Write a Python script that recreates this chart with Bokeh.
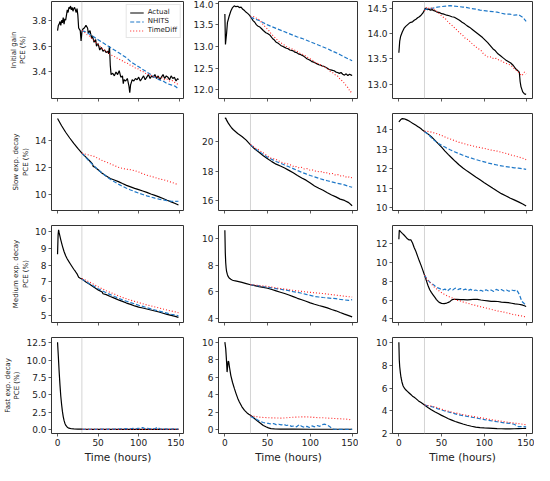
from bokeh.plotting import figure
from bokeh.layouts import gridplot
from bokeh.models import Range1d, FixedTicker, Span
from bokeh.embed import file_html
from bokeh.resources import INLINE

# ---------------- data ----------------
T5 = [30, 35, 40, 45, 50, 55, 60, 65, 70, 75, 80, 85, 90, 95, 100, 105, 110, 115, 120, 125, 130, 135, 140, 145, 149]
T3 = [30, 33, 36, 39, 42, 45, 48, 51, 54, 57, 60, 63, 66, 69, 72, 75, 78, 81, 84, 87, 90, 93, 96, 99, 102, 105,
      108, 111, 114, 117, 120, 123, 126, 129, 132, 135, 138, 141, 144, 147, 149]

# Initial gain
ig1_actual = [(0, 3.72), (1, 3.76), (2, 3.77), (3, 3.79), (4, 3.76), (5, 3.80), (6, 3.78), (7, 3.82), (8, 3.77),
              (9, 3.81), (10, 3.80), (11, 3.84), (12, 3.88), (13, 3.86), (14, 3.90), (15, 3.89), (16, 3.91),
              (17, 3.88), (18, 3.90), (19, 3.87), (20, 3.89), (21, 3.90), (22, 3.88), (23, 3.86), (24, 3.89),
              (25, 3.84), (26, 3.74), (27, 3.73), (28, 3.72), (29, 3.64), (30, 3.71), (31, 3.73), (33, 3.74),
              (35, 3.76), (37, 3.74), (38, 3.70), (40, 3.72), (42, 3.66), (43, 3.68), (45, 3.63), (47, 3.65),
              (48, 3.60), (50, 3.62), (52, 3.57), (54, 3.59), (56, 3.56), (58, 3.57), (60, 3.55), (62, 3.56),
              (63, 3.54), (64, 3.60), (65, 3.45), (66, 3.38), (68, 3.39), (70, 3.37), (72, 3.40), (74, 3.38),
              (76, 3.41), (78, 3.36), (80, 3.37), (81, 3.31), (82, 3.34), (84, 3.33), (86, 3.35), (88, 3.29),
              (89, 3.24), (90, 3.30), (92, 3.34), (94, 3.33), (96, 3.35), (98, 3.34), (100, 3.36), (102, 3.33),
              (104, 3.35), (106, 3.37), (108, 3.34), (110, 3.36), (112, 3.38), (114, 3.35), (116, 3.37),
              (118, 3.36), (120, 3.38), (122, 3.35), (124, 3.37), (126, 3.34), (128, 3.36), (130, 3.38),
              (132, 3.35), (134, 3.37), (136, 3.36), (138, 3.34), (140, 3.37), (142, 3.35), (144, 3.36),
              (146, 3.33), (148, 3.35), (149, 3.34)]
ig1_nhits = [3.72, 3.71, 3.69, 3.67, 3.65, 3.63, 3.61, 3.59, 3.57, 3.55, 3.53, 3.51, 3.48, 3.46, 3.44,
             3.42, 3.40, 3.38, 3.36, 3.34, 3.33, 3.31, 3.30, 3.29, 3.27]
ig1_timediff = [3.72, 3.71, 3.69, 3.68, 3.66, 3.645, 3.62, 3.61, 3.585, 3.575, 3.56, 3.545, 3.53, 3.525, 3.51,
                3.505, 3.49, 3.485, 3.47, 3.465, 3.45, 3.445, 3.43, 3.425, 3.41, 3.405, 3.39, 3.385, 3.375, 3.37,
                3.36, 3.365, 3.35, 3.355, 3.34, 3.345, 3.33, 3.335, 3.32, 3.31, 3.30]

ig2_actual = [(0, 13.75), (0.7, 13.05), (2, 13.3), (3, 13.55), (5, 13.7), (7, 13.82), (9, 13.9), (11, 13.94),
              (13, 13.92), (15, 13.93), (17, 13.9), (19, 13.91), (21, 13.86), (23, 13.83), (25, 13.79),
              (27, 13.76), (29, 13.72), (31, 13.66), (33, 13.6), (35, 13.56), (37, 13.5), (39, 13.47),
              (41, 13.45), (43, 13.41), (45, 13.37), (48, 13.32), (50, 13.3), (53, 13.26), (56, 13.18),
              (58, 13.15), (60, 13.1), (62, 13.08), (64, 13.05), (66, 13.02), (68, 13.0), (70, 12.98),
              (72, 12.96), (74, 12.95), (76, 12.92), (78, 12.91), (80, 12.9), (82, 12.87), (84, 12.86),
              (86, 12.83), (88, 12.82), (90, 12.8), (92, 12.78), (94, 12.75), (96, 12.72), (98, 12.7),
              (100, 12.68), (102, 12.65), (104, 12.64), (106, 12.62), (108, 12.6), (110, 12.58), (112, 12.57),
              (114, 12.55), (116, 12.54), (118, 12.52), (120, 12.5), (122, 12.47), (124, 12.46), (126, 12.45),
              (128, 12.44), (130, 12.41), (132, 12.4), (134, 12.38), (136, 12.4), (138, 12.36), (140, 12.34),
              (142, 12.37), (144, 12.33), (146, 12.36), (148, 12.34), (149, 12.33)]
ig2_nhits = [13.68, 13.64, 13.6, 13.55, 13.5, 13.46, 13.42, 13.38, 13.34, 13.3, 13.26, 13.22, 13.19, 13.15, 13.11,
             13.07, 13.03, 12.99, 12.95, 12.9, 12.86, 12.81, 12.76, 12.71, 12.67]
ig2_timediff = [13.68, 13.7, 13.66, 13.64, 13.58, 13.5, 13.44, 13.38, 13.3, 13.24, 13.18, 13.12, 13.08, 13.04, 13.0,
                12.97, 12.95, 12.92, 12.9, 12.85, 12.83, 12.8, 12.76, 12.72, 12.7, 12.64, 12.62, 12.58, 12.56,
                12.52, 12.5, 12.43, 12.4, 12.35, 12.32, 12.24, 12.2, 12.12, 12.05, 11.95, 11.97]

ig3_actual = [(0, 13.62), (1, 13.85), (2, 13.94), (4, 14.03), (6, 14.1), (8, 14.14), (10, 14.17), (12, 14.2),
              (14, 14.22), (16, 14.23), (18, 14.26), (20, 14.28), (22, 14.31), (24, 14.33), (26, 14.36),
              (28, 14.4), (30, 14.46), (31, 14.5), (33, 14.47), (35, 14.48), (37, 14.46), (39, 14.47),
              (41, 14.45), (43, 14.44), (45, 14.42), (48, 14.41), (50, 14.39), (53, 14.38), (56, 14.36),
              (59, 14.35), (62, 14.33), (65, 14.32), (68, 14.29), (71, 14.26), (74, 14.22), (77, 14.19),
              (80, 14.15), (83, 14.12), (86, 14.08), (89, 14.04), (92, 14.0), (95, 13.96), (98, 13.92),
              (101, 13.87), (104, 13.82), (107, 13.76), (110, 13.7), (113, 13.66), (116, 13.6), (119, 13.56),
              (122, 13.52), (125, 13.48), (128, 13.45), (131, 13.42), (134, 13.37), (137, 13.3), (139, 13.27),
              (141, 13.24), (142, 13.05), (143, 12.95), (145, 12.85), (147, 12.81), (149, 12.8)]
ig3_nhits = [14.47, 14.49, 14.5, 14.52, 14.53, 14.54, 14.55, 14.54, 14.53, 14.52, 14.51, 14.49, 14.48, 14.46, 14.45,
             14.44, 14.43, 14.42, 14.4, 14.38, 14.38, 14.36, 14.37, 14.32, 14.24]
ig3_timediff = [14.45, 14.52, 14.49, 14.5, 14.46, 14.43, 14.38, 14.33, 14.3, 14.24, 14.19, 14.15, 14.1, 14.05, 14.0,
                13.96, 13.9, 13.88, 13.83, 13.78, 13.74, 13.7, 13.67, 13.6, 13.56, 13.53, 13.54, 13.5, 13.51,
                13.48, 13.46, 13.43, 13.41, 13.39, 13.36, 13.31, 13.27, 13.22, 13.17, 13.24, 13.2]

# Slow exp. decay
sd1_actual = [(0, 15.58), (5, 15.05), (10, 14.57), (15, 14.15), (20, 13.75), (25, 13.38), (30, 13.04), (35, 12.74),
              (40, 12.44), (43, 12.25), (44, 12.05), (45, 12.06), (50, 11.82), (55, 11.56), (60, 11.35),
              (65, 11.17), (70, 11.06), (75, 10.94), (80, 10.8), (85, 10.67), (90, 10.56), (95, 10.45),
              (100, 10.35), (105, 10.25), (110, 10.15), (115, 10.03), (120, 9.93), (125, 9.82), (130, 9.7),
              (135, 9.57), (140, 9.45), (145, 9.33), (149, 9.22)]
sd1_nhits = [13.04, 12.7, 12.38, 12.1, 11.82, 11.56, 11.33, 11.12, 10.93, 10.76, 10.6, 10.46, 10.33, 10.21, 10.1,
             10.0, 9.9, 9.81, 9.73, 9.66, 9.6, 9.55, 9.5, 9.49, 9.5]
sd1_timediff = [13.04, 12.95, 12.88, 12.8, 12.65, 12.5, 12.38, 12.25, 12.12, 12.0, 11.92, 11.85, 11.82, 11.75, 11.65,
                11.52, 11.42, 11.33, 11.25, 11.15, 11.08, 11.0, 10.9, 10.8, 10.7]

sd2_actual = [(0, 21.56), (1, 21.6), (2, 21.45), (4, 21.25), (6, 21.08), (8, 20.92), (10, 20.8), (15, 20.55),
              (20, 20.35), (25, 20.1), (30, 19.78), (35, 19.5), (40, 19.28), (45, 19.05), (50, 18.85), (55, 18.65),
              (60, 18.48), (65, 18.35), (70, 18.22), (75, 18.06), (80, 17.9), (85, 17.72), (90, 17.55), (95, 17.4),
              (100, 17.2), (105, 17.0), (110, 16.85), (115, 16.72), (120, 16.55), (125, 16.4), (130, 16.27),
              (135, 16.12), (140, 16.03), (145, 15.88), (149, 15.67)]
sd2_nhits = [19.78, 19.55, 19.34, 19.14, 18.95, 18.8, 18.66, 18.54, 18.42, 18.3, 18.18, 18.05, 17.93, 17.82, 17.71,
             17.62, 17.52, 17.44, 17.36, 17.28, 17.21, 17.15, 17.08, 16.98, 16.92]
sd2_timediff = [19.8, 19.7, 19.55, 19.48, 19.35, 19.25, 19.12, 19.0, 18.88, 18.85, 18.8, 18.7, 18.62, 18.55, 18.52,
                18.47, 18.4, 18.3, 18.32, 18.22, 18.26, 18.15, 18.18, 18.08, 18.1, 18.02, 18.0, 17.95, 17.98,
                17.88, 17.9, 17.82, 17.85, 17.75, 17.78, 17.68, 17.72, 17.6, 17.65, 17.55, 17.58]

sd3_actual = [(0, 14.39), (2, 14.5), (4, 14.56), (6, 14.55), (8, 14.52), (10, 14.48), (12, 14.44), (14, 14.38),
              (16, 14.32), (18, 14.27), (20, 14.22), (22, 14.16), (24, 14.1), (26, 14.04), (28, 13.96), (30, 13.9),
              (34, 13.78), (38, 13.64), (42, 13.46), (46, 13.28), (50, 13.1), (54, 12.9), (58, 12.72), (62, 12.55),
              (66, 12.38), (70, 12.22), (75, 12.04), (80, 11.88), (85, 11.73), (90, 11.58), (95, 11.44),
              (100, 11.29), (105, 11.15), (110, 11.0), (115, 10.86), (120, 10.73), (125, 10.62), (130, 10.51),
              (135, 10.41), (140, 10.31), (145, 10.2), (149, 10.1)]
sd3_nhits = [13.9, 13.72, 13.5, 13.33, 13.2, 13.08, 12.97, 12.87, 12.78, 12.69, 12.61, 12.54, 12.47, 12.41, 12.35,
             12.29, 12.24, 12.19, 12.15, 12.11, 12.08, 12.05, 12.03, 12.0, 11.97]
sd3_timediff = [13.92, 13.9, 13.85, 13.78, 13.7, 13.6, 13.52, 13.44, 13.36, 13.3, 13.23, 13.18, 13.12, 13.08, 13.04,
                12.98, 12.94, 12.9, 12.84, 12.79, 12.72, 12.66, 12.6, 12.54, 12.46]

# Medium exp. decay
md1_actual = [(0, 8.64), (0.7, 9.8), (1.3, 10.08), (2, 9.9), (3, 9.7), (4, 9.49), (6, 9.12), (8, 8.8), (10, 8.55),
              (12, 8.36), (14, 8.2), (16, 8.05), (18, 7.9), (20, 7.75), (22, 7.62), (24, 7.48), (26, 7.28),
              (28, 7.22), (30, 7.17), (35, 7.0), (40, 6.85), (45, 6.68), (50, 6.53), (55, 6.4), (56, 6.3),
              (60, 6.25), (65, 6.14), (70, 6.04), (75, 5.94), (80, 5.85), (85, 5.75), (90, 5.67), (95, 5.58),
              (100, 5.51), (105, 5.46), (110, 5.4), (115, 5.34), (120, 5.28), (125, 5.22), (130, 5.15),
              (135, 5.08), (140, 5.02), (145, 4.96), (149, 4.9)]
md1_nhits = [7.17, 7.02, 6.88, 6.74, 6.6, 6.48, 6.36, 6.25, 6.14, 6.04, 5.94, 5.86, 5.78, 5.7, 5.62,
             5.55, 5.48, 5.41, 5.34, 5.27, 5.21, 5.15, 5.09, 5.04, 4.99]
md1_timediff = [7.2, 7.1, 6.98, 6.85, 6.72, 6.6, 6.48, 6.38, 6.28, 6.18, 6.08, 6.0, 5.92, 5.85, 5.78,
                5.71, 5.64, 5.58, 5.52, 5.46, 5.4, 5.34, 5.28, 5.23, 5.18]

md2_actual = [(0, 10.65), (0.5, 8.96), (1, 8.2), (1.5, 7.8), (2, 7.55), (3, 7.3), (4, 7.15), (5, 7.05), (7, 6.95),
              (9, 6.88), (11, 6.85), (15, 6.8), (20, 6.72), (25, 6.63), (30, 6.54), (35, 6.47), (40, 6.4),
              (45, 6.34), (50, 6.28), (55, 6.18), (60, 6.08), (65, 5.98), (70, 5.88), (75, 5.77), (80, 5.65),
              (85, 5.52), (90, 5.41), (95, 5.3), (100, 5.18), (105, 5.07), (110, 4.98), (115, 4.9), (120, 4.8),
              (125, 4.68), (130, 4.58), (135, 4.45), (140, 4.33), (145, 4.22), (149, 4.12)]
md2_nhits = [6.54, 6.5, 6.45, 6.4, 6.36, 6.3, 6.25, 6.2, 6.15, 6.1, 6.02, 5.97, 5.9, 5.82, 5.74,
             5.66, 5.62, 5.58, 5.55, 5.52, 5.49, 5.44, 5.4, 5.36, 5.42]
md2_timediff = [6.55, 6.52, 6.48, 6.45, 6.42, 6.36, 6.3, 6.26, 6.22, 6.17, 6.12, 6.08, 6.04, 6.0, 5.97,
                5.94, 5.91, 5.88, 5.84, 5.8, 5.76, 5.72, 5.68, 5.64, 5.62]

md3_actual = [(0, 12.4), (0.5, 13.35), (2, 13.2), (4, 13.02), (6, 12.85), (8, 12.65), (10, 12.45), (12, 12.33),
              (14, 12.35), (16, 12.0), (18, 11.5), (20, 11.1), (22, 10.6), (24, 10.1), (26, 9.65), (28, 9.15),
              (30, 8.62), (32, 8.1), (34, 7.55), (36, 7.1), (38, 6.8), (40, 6.55), (42, 6.3), (44, 6.05),
              (46, 5.85), (48, 5.72), (50, 5.65), (53, 5.62), (56, 5.68), (58, 5.75), (60, 5.85), (62, 6.02),
              (64, 6.08), (68, 6.06), (72, 6.03), (76, 6.05), (80, 6.02), (84, 6.05), (88, 6.08), (92, 6.06),
              (96, 6.0), (100, 5.95), (104, 5.9), (108, 5.85), (112, 5.86), (116, 5.84), (120, 5.78), (124, 5.76),
              (128, 5.72), (132, 5.66), (136, 5.6), (140, 5.55), (144, 5.48), (147, 5.4), (149, 5.32)]
md3_nhits = [8.62, 8.2, 7.9, 7.72, 7.5, 7.3, 7.2, 7.05, 7.15, 6.95, 7.2, 7.05, 7.25, 7.1, 7.2,
             7.05, 7.15, 7.0, 7.12, 6.98, 7.05, 6.95, 7.02, 6.9, 7.08, 6.95, 7.05, 6.9, 7.12, 7.0,
             7.1, 6.95, 7.05, 6.92, 7.06, 6.98, 7.05, 6.6, 5.85, 5.6, 5.5]
md3_timediff = [8.62, 8.15, 7.85, 7.6, 7.3, 7.1, 6.9, 6.72, 6.55, 6.42, 6.3, 6.2, 6.05, 5.95, 5.9,
                5.8, 5.72, 5.65, 5.55, 5.5, 5.42, 5.35, 5.28, 5.22, 5.15, 5.08, 5.02, 4.95, 4.88, 4.82,
                4.78, 4.72, 4.66, 4.6, 4.52, 4.45, 4.42, 4.35, 4.32, 4.25, 4.2]

# Fast exp. decay
fd1_actual = [(0, 12.6), (1, 10.5), (2, 8.3), (3, 6.4), (4, 4.8), (5, 3.6), (6, 2.6), (7, 1.85), (8, 1.3), (9, 0.9),
              (10, 0.62), (12, 0.32), (14, 0.18), (17, 0.1), (20, 0.07), (25, 0.05), (30, 0.03), (40, 0.02),
              (60, 0.01), (100, 0.01), (149, 0.0)]
fd1_nhits = [0.0, 0.02, 0.0, 0.01, 0.02, 0.0, 0.02, 0.01, 0.03, 0.0, 0.02, 0.03, 0.01, 0.04, 0.03,
             0.06, 0.1, 0.05, 0.12, 0.07, 0.1, 0.15, 0.07, 0.14, 0.18, 0.26, 0.1, 0.15, 0.08, 0.12,
             0.1, 0.3, 0.08, 0.05, 0.07, 0.04, 0.06, 0.05, 0.07, 0.05, 0.06]
fd1_timediff = [0.02, 0.03, 0.01, 0.02, 0.03, 0.01, 0.02, 0.03, 0.02, 0.01, 0.03, 0.02, 0.01, 0.03, 0.02,
                0.01, 0.02, 0.03, 0.01, 0.02, 0.03, 0.02, 0.01, 0.02, 0.02]

fd2_actual = [(0, 10.04), (1, 9.3), (2, 7.8), (2.6, 6.6), (3.2, 7.2), (3.8, 7.85), (4.5, 7.8), (5.5, 7.1), (7, 6.2),
              (9, 5.4), (11, 4.75), (13, 4.15), (15, 3.6), (17, 3.15), (20, 2.6), (23, 2.2), (26, 1.9), (28, 1.75),
              (30, 1.62), (33, 1.4), (36, 1.15), (39, 0.9), (42, 0.68), (45, 0.45), (48, 0.3), (51, 0.18),
              (54, 0.1), (58, 0.06), (65, 0.04), (80, 0.03), (100, 0.02), (120, 0.02), (149, 0.02)]
fd2_nhits = [1.5, 1.35, 1.2, 1.05, 0.9, 0.8, 0.72, 0.7, 0.62, 0.68, 0.55, 0.6, 0.52, 0.58, 0.45,
             0.5, 0.35, 0.4, 0.3, 0.55, 0.35, 0.25, 0.35, 0.22, 0.4, 0.3, 0.45, 0.35, 0.55, 0.6,
             0.5, 0.3, 0.05, 0.02, 0.01, 0.02, 0.01, 0.02, 0.01, 0.02, 0.01]
fd2_timediff = [1.55, 1.5, 1.42, 1.38, 1.35, 1.33, 1.32, 1.3, 1.32, 1.36, 1.4, 1.42, 1.44, 1.45, 1.42,
                1.38, 1.35, 1.34, 1.3, 1.28, 1.25, 1.22, 1.2, 1.16, 1.05]

fd3_actual = [(0, 10.06), (0.5, 8.5), (1, 7.9), (1.7, 7.4), (2.5, 6.95), (3.6, 6.55), (5, 6.2), (6.5, 6.0),
              (8, 5.86), (10, 5.72), (12, 5.58), (14, 5.44), (16, 5.3), (18, 5.2), (20, 5.08), (23, 4.88),
              (26, 4.73), (30, 4.52), (34, 4.3), (38, 4.1), (42, 3.92), (46, 3.76), (50, 3.6), (54, 3.45),
              (58, 3.3), (62, 3.18), (66, 3.06), (70, 2.96), (75, 2.84), (80, 2.73), (85, 2.64), (90, 2.57),
              (95, 2.52), (100, 2.49), (105, 2.47), (110, 2.45), (115, 2.43), (120, 2.42), (125, 2.41),
              (130, 2.41), (135, 2.42), (140, 2.43), (145, 2.44), (149, 2.45)]
fd3_nhits = [4.52, 4.44, 4.34, 4.2, 4.08, 3.96, 3.86, 3.76, 3.66, 3.58, 3.51, 3.44, 3.38, 3.3, 3.23,
             3.16, 3.1, 3.04, 2.98, 2.93, 2.9, 2.82, 2.6, 2.62, 2.58]
fd3_timediff = [4.52, 4.46, 4.4, 4.28, 4.15, 4.03, 3.93, 3.84, 3.75, 3.67, 3.6, 3.53, 3.46, 3.4, 3.34,
                3.27, 3.2, 3.14, 3.08, 3.02, 2.97, 2.92, 2.87, 2.82, 2.77]

row_labels = ["Initial gain\nPCE (%)", "Slow exp. decay\nPCE (%)",
              "Medium exp. decay\nPCE (%)", "Fast exp. decay\nPCE (%)"]
x_label = "Time (hours)"
x_ticks = [0, 50, 100, 150]
x_tick_labels = ["0", "50", "100", "150"]
split_time = 30
series_names = ["Actual", "NHITS", "TimeDiff"]

y_limits = [[(3.195, 3.945), (11.8, 14.04), (12.72, 14.63)],
            [(8.82, 15.95), (15.35, 21.9), (9.87, 14.82)],
            [(4.6, 10.34), (3.7, 11.0), (3.63, 13.85)],
            [(-0.59, 13.28), (-0.47, 10.58), (2.0, 10.48)]]
y_ticks = [[[3.4, 3.6, 3.8], [12.0, 12.5, 13.0, 13.5, 14.0], [13.0, 13.5, 14.0, 14.5]],
           [[10, 12, 14], [16, 18, 20], [10, 11, 12, 13, 14]],
           [[5, 6, 7, 8, 9, 10], [4, 6, 8, 10], [4, 6, 8, 10, 12]],
           [[0, 2.5, 5, 7.5, 10, 12.5], [0, 2, 4, 6, 8, 10], [2, 4, 6, 8, 10]]]
y_tick_labels = [[["3.4", "3.6", "3.8"], ["12.0", "12.5", "13.0", "13.5", "14.0"], ["13.0", "13.5", "14.0", "14.5"]],
                 [["10", "12", "14"], ["16", "18", "20"], ["10", "11", "12", "13", "14"]],
                 [["5", "6", "7", "8", "9", "10"], ["4", "6", "8", "10"], ["4", "6", "8", "10", "12"]],
                 [["0.0", "2.5", "5.0", "7.5", "10.0", "12.5"], ["0", "2", "4", "6", "8", "10"], ["2", "4", "6", "8", "10"]]]

panels = [
    [(ig1_actual, T5, ig1_nhits, T3, ig1_timediff), (ig2_actual, T5, ig2_nhits, T3, ig2_timediff),
     (ig3_actual, T5, ig3_nhits, T3, ig3_timediff)],
    [(sd1_actual, T5, sd1_nhits, T5, sd1_timediff), (sd2_actual, T5, sd2_nhits, T3, sd2_timediff),
     (sd3_actual, T5, sd3_nhits, T5, sd3_timediff)],
    [(md1_actual, T5, md1_nhits, T5, md1_timediff), (md2_actual, T5, md2_nhits, T5, md2_timediff),
     (md3_actual, T3, md3_nhits, T3, md3_timediff)],
    [(fd1_actual, T3, fd1_nhits, T5, fd1_timediff), (fd2_actual, T3, fd2_nhits, T5, fd2_timediff),
     (fd3_actual, T5, fd3_nhits, T5, fd3_timediff)],
]

# ---------------- style ----------------
FONT = "DejaVu Sans"
C_ACT = "black"
C_NH = "#1f78c8"
C_TD = "#ff2020"
TXT = "#222222"
FRAME_W = 140
FRAME_H = 97
DASH_NH = "4 2"
DASH_TD = "1 2"

figs = []
for r in range(4):
    for c in range(3):
        act, tn, nh, tt, td = panels[r][c]
        left = 44 if c == 0 else 34
        right = 2 if c == 2 else 0
        bottom = 31 if r == 3 else 14
        top = 1
        p = figure(width=left + FRAME_W + right, height=top + FRAME_H + bottom,
                   output_backend="svg", toolbar_location=None, title=None,
                   x_range=Range1d(-7.45, 156.45), y_range=Range1d(*y_limits[r][c]),
                   min_border_left=left, min_border_right=right, min_border_top=top, min_border_bottom=bottom)
        p.background_fill_color = "white"
        p.border_fill_color = "white"
        p.outline_line_color = "#333333"
        p.outline_line_width = 1
        p.grid.visible = False

        p.add_layout(Span(location=split_time, dimension="height", line_color="#c8c8c8",
                          line_width=0.8, level="underlay"))

        at = [a for a, b in act]
        av = [b for a, b in act]
        if r == 0 and c == 0:
            p.line(at, av, line_color=C_ACT, line_width=1.2, legend_label=series_names[0])
            p.line(tn, nh, line_color=C_NH, line_width=1.2, line_dash=DASH_NH, legend_label=series_names[1])
            p.line(tt, td, line_color=C_TD, line_width=1.1, line_dash=DASH_TD, legend_label=series_names[2])
            lg = p.legend[0]
            lg.location = "top_right"
            lg.label_text_font = FONT
            lg.label_text_font_size = "7px"
            lg.label_text_color = TXT
            lg.glyph_width = 14
            lg.glyph_height = 7
            lg.label_height = 7
            lg.label_standoff = 4
            lg.spacing = 1
            lg.padding = 3
            lg.margin = 3
            lg.border_line_color = "#cccccc"
            lg.border_line_width = 0.8
            lg.background_fill_alpha = 0.85
        else:
            p.line(at, av, line_color=C_ACT, line_width=1.2)
            p.line(tn, nh, line_color=C_NH, line_width=1.2, line_dash=DASH_NH)
            p.line(tt, td, line_color=C_TD, line_width=1.1, line_dash=DASH_TD)

        for ax in (p.xaxis[0], p.yaxis[0]):
            ax.axis_line_color = None
            ax.major_tick_line_color = "#333333"
            ax.major_tick_line_width = 0.8
            ax.major_tick_in = 0
            ax.major_tick_out = 3
            ax.minor_tick_line_color = None
            ax.major_label_text_font = FONT
            ax.major_label_text_font_size = "9px"
            ax.major_label_text_color = TXT
            ax.major_label_standoff = 2
            ax.axis_label_text_font = FONT
            ax.axis_label_text_font_style = "normal"
            ax.axis_label_text_color = TXT

        xa = p.xaxis[0]
        xa.ticker = FixedTicker(ticks=x_ticks)
        if r == 3:
            xa.major_label_overrides = {k: s for k, s in zip(x_ticks, x_tick_labels)}
            xa.axis_label = x_label
            xa.axis_label_text_font_size = "10.5px"
            xa.axis_label_standoff = 2
        else:
            xa.major_label_text_font_size = "0px"
            xa.major_label_overrides = {k: "" for k in x_ticks}

        ya = p.yaxis[0]
        ya.ticker = FixedTicker(ticks=y_ticks[r][c])
        ya.major_label_overrides = {k: s for k, s in zip(y_ticks[r][c], y_tick_labels[r][c])}
        if c == 0:
            ya.axis_label = row_labels[r]
            ya.axis_label_text_font_size = "7px"
            ya.axis_label_standoff = 2
        figs.append(p)

grid = gridplot(figs, ncols=3, toolbar_location=None)
open("out.html", "w").write(file_html(grid, INLINE))
